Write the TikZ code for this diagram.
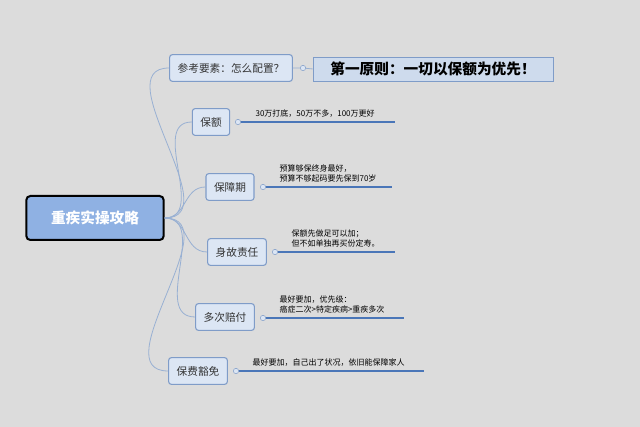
\documentclass[tikz,border=0pt]{standalone}
\usepackage{fontspec}
\newfontfamily\cjk{Noto Sans CJK SC}
\usetikzlibrary{positioning}
\definecolor{bgc}{HTML}{DCDCDC}
\definecolor{boxc}{HTML}{DCE6F4}
\definecolor{edgec}{HTML}{7F9CC8}
\definecolor{rootc}{HTML}{8FB1E3}
\definecolor{linec}{HTML}{4A76B8}
\tikzset{
  topic/.style={draw=edgec,fill=boxc,rounded corners=2pt,line width=0.8pt,
    font=\cjk\fontsize{8}{9}\selectfont,text=black!80,minimum height=20pt,inner xsep=6pt},
  branch/.style={edgec!80,line width=0.6pt},
  note/.style={font=\cjk\fontsize{6}{7.5}\selectfont,align=left,anchor=south west,inner sep=1pt},
  uline/.style={linec,line width=1.2pt},
  knob/.style={circle,draw=edgec,fill=boxc,inner sep=0pt,minimum size=4pt}
}
\begin{document}
\begin{tikzpicture}[x=0.75pt,y=-0.75pt]
  \fill[bgc] (0,0) rectangle (640,427);

  % 中心主题
  \node[draw=black,line width=1.5pt,fill=rootc,rounded corners=3pt,minimum width=103pt,
    minimum height=33pt,text=white,font=\cjk\bfseries\fontsize{11}{12}\selectfont] (root) at (95,218) {重疾实操攻略};

  % 分支
  \node[topic] (ref) at (231,68) {参考要素：怎么配置？};
  \node[topic] (amt) at (211,122) {保额};
  \node[topic] (term) at (230,187) {保障期};
  \node[topic] (death) at (237,252) {身故责任};
  \node[topic] (multi) at (225,317) {多次赔付};
  \node[topic] (waive) at (198,371) {保费豁免};

  \foreach \b in {ref,amt,term,death,multi,waive}
    \draw[branch] (root.east) to[out=0,in=180,looseness=1.1] (\b.west);

  % 原则
  \node[knob] (k0) at (303,68) {};
  \node[draw=edgec,fill=boxc!85!edgec,minimum width=180pt,minimum height=18pt,
    font=\cjk\bfseries\fontsize{11}{12}\selectfont] (rule) at (433,69) {第一原则：一切以保额为优先！};
  \draw[branch] (ref.east) -- (k0) -- (rule.west);

  % 说明
  \node[knob] (k1) at (238,122) {};
  \coordinate (e1) at (395,122);
  \draw[uline] (k1.east) -- (e1);
  \node[note] (n1) at (254,119) {30万打底，50万不多，100万更好};

  \node[knob] (k2) at (263,187) {};
  \coordinate (e2) at (392,187);
  \draw[uline] (k2.east) -- (e2);
  \node[note] (n2) at (278,184) {预算够保终身最好，\\预算不够起码要先保到70岁};

  \node[knob] (k3) at (275,252) {};
  \coordinate (e3) at (395,252);
  \draw[uline] (k3.east) -- (e3);
  \node[note] (n3) at (290,249) {保额先做足可以加；\\但不如单独再买份定寿。};

  \node[knob] (k4) at (263,318) {};
  \coordinate (e4) at (404,318);
  \draw[uline] (k4.east) -- (e4);
  \node[note] (n4) at (278,315) {最好要加，优先级：\\癌症二次>特定疾病>重疾多次};

  \node[knob] (k5) at (236,371) {};
  \coordinate (e5) at (424,371);
  \draw[uline] (k5.east) -- (e5);
  \node[note] (n5) at (251,368) {最好要加，自己出了状况，依旧能保障家人};
\end{tikzpicture}
\end{document}
